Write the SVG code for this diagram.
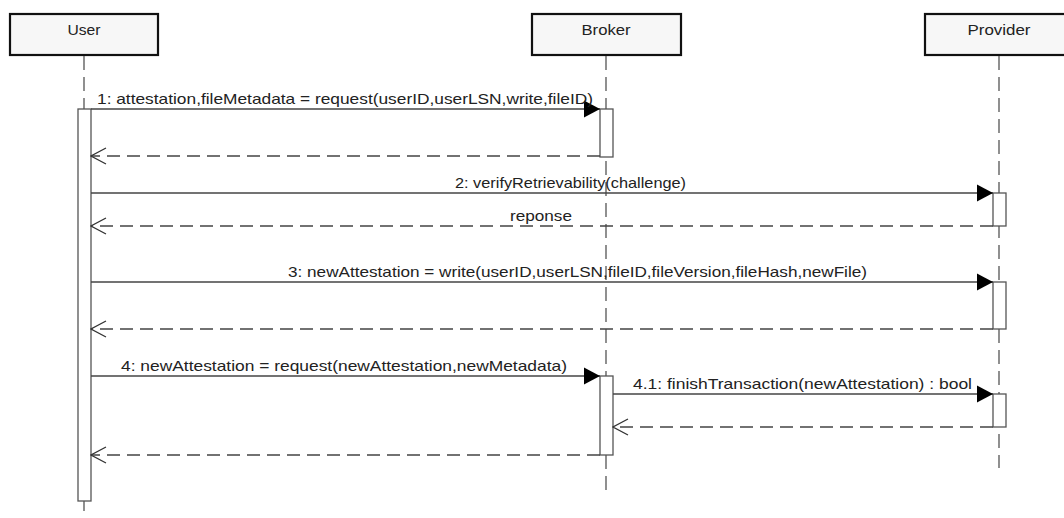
<svg xmlns="http://www.w3.org/2000/svg" width="1064" height="518" viewBox="0 0 1064 518">
<style>
.bg{fill:#ffffff}
.head{fill:#f7f7f7;stroke:#111;stroke-width:2.2}
.htxt{font-family:"Liberation Sans","DejaVu Sans",sans-serif;font-size:15px;fill:#222;text-anchor:middle}
.life{stroke:#555;stroke-width:1.3;stroke-dasharray:14,7;fill:none}
.act{fill:#ffffff;stroke:#555;stroke-width:1.3}
.msg{stroke:#444;stroke-width:1.4;fill:none}
.ret{stroke:#444;stroke-width:1.4;fill:none;stroke-dasharray:13,7}
.lbl{font-family:"Liberation Sans","DejaVu Sans",sans-serif;font-size:14.5px;fill:#222}
</style>
<defs>
<marker id="filled" markerUnits="userSpaceOnUse" markerWidth="18" markerHeight="20" viewBox="-17 -9 18 18" refX="0" refY="0" orient="auto">
<polygon points="0,0 -16,-8.5 -16,8.5" fill="#000"/>
</marker>
<marker id="open" markerUnits="userSpaceOnUse" markerWidth="18" markerHeight="20" viewBox="-17 -9 18 18" refX="0" refY="0" orient="auto">
<polyline points="-15,-8 0,0 -15,8" fill="none" stroke="#333" stroke-width="1.3"/>
</marker>
</defs>
<rect class="bg" x="0" y="0" width="1064" height="518"/>

<g id="user">
<rect class="head" x="10" y="14" width="148" height="41"/>
<text class="htxt" x="84" y="35" textLength="33" lengthAdjust="spacingAndGlyphs">User</text>
<line class="life" x1="84" y1="56" x2="84" y2="518"/>
<rect class="act" x="78" y="109" width="13" height="392"/>
</g>

<g id="broker">
<rect class="head" x="532" y="14" width="149" height="41"/>
<text class="htxt" x="606" y="35" textLength="49" lengthAdjust="spacingAndGlyphs">Broker</text>
<line class="life" x1="606" y1="56" x2="606" y2="491"/>
<rect class="act" x="600" y="109" width="13" height="48"/>
<rect class="act" x="600" y="376" width="13" height="79"/>
</g>

<g id="provider">
<rect class="head" x="925" y="14" width="149" height="41"/>
<text class="htxt" x="999" y="35" textLength="63" lengthAdjust="spacingAndGlyphs">Provider</text>
<line class="life" x1="999" y1="56" x2="999" y2="468"/>
<rect class="act" x="993" y="193" width="13" height="33"/>
<rect class="act" x="993" y="282" width="13" height="47"/>
<rect class="act" x="993" y="394" width="13" height="33"/>
</g>

<g id="connectors">
<line class="msg" x1="91" y1="109" x2="600" y2="109" marker-end="url(#filled)"/>
<text class="lbl" x="97" y="104" textLength="496" lengthAdjust="spacingAndGlyphs">1: attestation,fileMetadata = request(userID,userLSN,write,fileID)</text>
<line class="ret" x1="600" y1="156" x2="91" y2="156" marker-end="url(#open)"/>

<line class="msg" x1="91" y1="193" x2="993" y2="193" marker-end="url(#filled)"/>
<text class="lbl" x="455" y="188" textLength="231" lengthAdjust="spacingAndGlyphs">2: verifyRetrievability(challenge)</text>
<line class="ret" x1="993" y1="226" x2="91" y2="226" marker-end="url(#open)"/>
<text class="lbl" x="510" y="221" textLength="62" lengthAdjust="spacingAndGlyphs">reponse</text>

<line class="msg" x1="91" y1="282" x2="993" y2="282" marker-end="url(#filled)"/>
<text class="lbl" x="288" y="277" textLength="579" lengthAdjust="spacingAndGlyphs">3: newAttestation = write(userID,userLSN,fileID,fileVersion,fileHash,newFile)</text>
<line class="ret" x1="993" y1="329" x2="91" y2="329" marker-end="url(#open)"/>

<line class="msg" x1="91" y1="376" x2="600" y2="376" marker-end="url(#filled)"/>
<text class="lbl" x="121" y="371" textLength="446" lengthAdjust="spacingAndGlyphs">4: newAttestation = request(newAttestation,newMetadata)</text>

<line class="msg" x1="613" y1="394" x2="993" y2="394" marker-end="url(#filled)"/>
<text class="lbl" x="633" y="389" textLength="339" lengthAdjust="spacingAndGlyphs">4.1: finishTransaction(newAttestation) : bool</text>
<line class="ret" x1="993" y1="427" x2="613" y2="427" marker-end="url(#open)"/>

<line class="ret" x1="600" y1="455" x2="91" y2="455" marker-end="url(#open)"/>
</g>
</svg>
